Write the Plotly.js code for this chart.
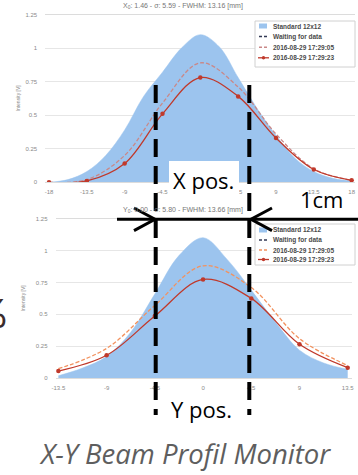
<!DOCTYPE html>
<html>
<head>
<meta charset="utf-8">
<script src="https://cdn.plot.ly/plotly-3.0.1.min.js"></script>
<style>html,body{margin:0;padding:0;background:#fff;}#chart{width:358px;height:475px;}</style>
</head>
<body>
<div id="chart"></div>
<script>
// ---------- data ----------
const seriesNames = ["Standard 12x12", "Waiting for data", "2016-08-29 17:29:05", "2016-08-29 17:29:23"];
const topTitle = "X<sub>0</sub>: 1.46 - σ: 5.59 - FWHM: 13.16 [mm]";
const botTitle = "Y<sub>0</sub>: 0.00 - σ: 5.80 - FWHM: 13.66 [mm]";
const yTitle = "Intensity [V]";

const xTop = [-18, -13.5, -9, -4.5, 0, 4.5, 9, 13.5, 18];
const xTopLabels = ["-18", "-13.5", "-9", "-4.5", "0", "4.5", "9", "13.5", "18"];
const topSolid = [0.00, 0.01, 0.14, 0.51, 0.78, 0.64, 0.33, 0.095, 0.015];
const topDashed = [0.00, 0.02, 0.20, 0.59, 0.89, 0.71, 0.36, 0.10, 0.015];
const xStdTop = [-18, -15.75, -13.5, -11.25, -9, -6.75, -4.5, -2.25, 0, 2.25, 4.5, 6.75, 9, 11.25, 13.5, 15.75, 18];
const topStd = [0.0, 0.02, 0.08, 0.20, 0.39, 0.64, 0.82, 1.0, 1.1, 1.01, 0.78, 0.55, 0.35, 0.18, 0.08, 0.03, 0.01];

const xBot = [-13.5, -9, -4.5, 0, 4.5, 9, 13.5];
const xBotLabels = ["-13.5", "-9", "-4.5", "0", "4.5", "9", "13.5"];
const botSolid = [0.057, 0.18, 0.487, 0.773, 0.625, 0.266, 0.083];
const botDashed = [0.075, 0.234, 0.57, 0.88, 0.71, 0.31, 0.10];
const xStdBot = [-13.5, -11.25, -9, -6.75, -4.5, -2.25, 0, 2.25, 4.5, 6.75, 9, 11.25, 13.5];
const botStd = [0.02, 0.08, 0.17, 0.36, 0.66, 0.96, 1.1, 0.93, 0.69, 0.44, 0.22, 0.12, 0.07];

const yTicks = [0, 0.25, 0.5, 0.75, 1, 1.25];
const yTickLabels = ["0", "0.25", "0.5", "0.75", "1", "1.25"];

const overlayLabels = {xpos: "X pos.", ypos: "Y pos.", cm: "1cm", caption: "X-Y Beam Profil Monitor", edge: "%"};

// ---------- styling ----------
const W = 358, H = 475;
const px = x => x / W;
const py = y => 1 - y / H;
const blue = "#9cc4ee";
const red = "#c0392b";
const topDashColor = "#c98888";
const botDashColor = "#f2925f";
const tickFont = {family: "Liberation Sans, Arial, sans-serif", size: 6, color: "#8a8a8a"};

function stdTrace(x, y, xa, ya) {
  return {x: x, y: y, xaxis: xa, yaxis: ya, type: "scatter", mode: "lines",
    line: {shape: "spline", smoothing: 1, color: blue, width: 0.5},
    fill: "tozeroy", fillcolor: blue, name: seriesNames[0], hoverinfo: "skip"};
}
function dashTrace(x, y, xa, ya, c) {
  return {x: x, y: y, xaxis: xa, yaxis: ya, type: "scatter", mode: "lines",
    line: {shape: "spline", smoothing: 1, color: c, width: 1.3, dash: "4px,2px"}, name: seriesNames[2]};
}
function solidTrace(x, y, xa, ya) {
  return {x: x, y: y, xaxis: xa, yaxis: ya, type: "scatter", mode: "lines+markers",
    line: {shape: "spline", smoothing: 1, color: red, width: 1.3},
    marker: {size: 4.5, color: red}, name: seriesNames[3]};
}

const data = [
  stdTrace(xStdTop, topStd, "x", "y"),
  dashTrace(xTop, topDashed, "x", "y", topDashColor),
  solidTrace(xTop, topSolid, "x", "y"),
  stdTrace(xStdBot, botStd, "x2", "y2"),
  dashTrace(xBot, botDashed, "x2", "y2", botDashColor),
  solidTrace(xBot, botSolid, "x2", "y2")
];

function xAxis(domain, range, vals, labels, anchor) {
  return {domain: domain, range: range, anchor: anchor, tickvals: vals, ticktext: labels,
    tickfont: tickFont, showgrid: false, zeroline: false, showline: true, linecolor: "#dcdcdc",
    linewidth: 1, mirror: true, ticks: "outside", ticklen: 3, tickcolor: "rgba(0,0,0,0)", fixedrange: true};
}
function yAxis(domain, anchor, standoff) {
  return {domain: domain, range: [0, 1.25], anchor: anchor, tickvals: yTicks, ticktext: yTickLabels,
    tickfont: tickFont, showgrid: true, gridcolor: "#e6e6e6", gridwidth: 1, zeroline: false,
    showline: false, ticks: "outside", ticklen: 6, tickcolor: "rgba(0,0,0,0)",
    title: {text: yTitle, font: {family: "Liberation Sans, Arial, sans-serif", size: 5, color: "#8a8a8a"}, standoff: standoff},
    fixedrange: true};
}

const shapes = [];
const annotations = [];

// legends (drawn as overlay boxes)
function legend(x0, y0, y1, rows) {
  shapes.push({type: "rect", xref: "paper", yref: "paper", x0: px(x0), x1: px(355), y0: py(y0), y1: py(y1),
    line: {color: "#d0d0d0", width: 1}, fillcolor: "#ffffff", layer: "above"});
  rows.forEach((yy, i) => {
    if (i === 0) {
      shapes.push({type: "rect", xref: "paper", yref: "paper", x0: px(x0 + 4), x1: px(x0 + 12), y0: py(yy - 2.5), y1: py(yy + 2.5),
        line: {width: 0}, fillcolor: blue, layer: "above"});
    } else if (i === 1 || i === 2) {
      const c = i === 1 ? "#333a55" : (y0 < 100 ? topDashColor : botDashColor);
      shapes.push({type: "line", xref: "paper", yref: "paper", x0: px(x0 + 4), x1: px(x0 + 13), y0: py(yy), y1: py(yy),
        line: {color: c, width: 1.5, dash: "3px,2px"}, layer: "above"});
    } else {
      shapes.push({type: "line", xref: "paper", yref: "paper", x0: px(x0 + 3), x1: px(x0 + 14), y0: py(yy), y1: py(yy),
        line: {color: red, width: 1.3}, layer: "above"});
      shapes.push({type: "circle", xref: "paper", yref: "paper", x0: px(x0 + 6.8), x1: px(x0 + 10.2), y0: py(yy - 1.7), y1: py(yy + 1.7),
        line: {width: 0}, fillcolor: red, layer: "above"});
    }
    annotations.push({xref: "paper", yref: "paper", x: px(x0 + 16), y: py(yy), xanchor: "left", yanchor: "middle",
      text: seriesNames[i], showarrow: false,
      font: {family: "Liberation Sans, Arial, sans-serif", size: 6.5, color: "#4a4a4a", weight: 700}});
  });
}
legend(255, 21, 67, [26, 36.6, 47.2, 57.8]);
legend(255, 224, 265, [230, 240, 250, 259.5]);

// chart titles
annotations.push({xref: "paper", yref: "paper", x: px(183), y: py(6), xanchor: "center", yanchor: "middle",
  text: topTitle, showarrow: false, font: {family: "Liberation Sans, Arial, sans-serif", size: 7, color: "#777"}});
annotations.push({xref: "paper", yref: "paper", x: px(183), y: py(210), xanchor: "center", yanchor: "middle",
  text: botTitle, showarrow: false, font: {family: "Liberation Sans, Arial, sans-serif", size: 7, color: "#777"}});

// overlay drawing: white label box, dashed guides, arrows
shapes.push({type: "rect", xref: "paper", yref: "paper", x0: px(169), x1: px(239), y0: py(201), y1: py(161),
  line: {width: 0}, fillcolor: "#ffffff", layer: "above"});
[155.7, 249.3].forEach(xx => {
  shapes.push({type: "line", xref: "paper", yref: "paper", x0: px(xx), x1: px(xx), y0: py(85), y1: py(415),
    line: {color: "#000", width: 4, dash: "18px,9px"}, layer: "above"});
});
shapes.push({type: "line", xref: "paper", yref: "paper", x0: px(117), x1: px(358), y0: py(219.3), y1: py(219.3),
  line: {color: "#000", width: 3}, layer: "above"});
function chevron(tipX, dir) {
  const bx = tipX - dir * 21;
  return `M ${px(bx)} ${py(208)} L ${px(tipX)} ${py(219.3)} L ${px(bx)} ${py(230.6)}`;
}
shapes.push({type: "path", xref: "paper", yref: "paper", path: chevron(155, 1), line: {color: "#000", width: 3}, layer: "above"});
shapes.push({type: "path", xref: "paper", yref: "paper", path: chevron(251, -1), line: {color: "#000", width: 3}, layer: "above"});

const bigFont = {family: "Open Sans, Lato, sans-serif", size: 22, color: "#000"};
annotations.push({xref: "paper", yref: "paper", x: px(204), y: py(180), xanchor: "center", yanchor: "middle",
  text: overlayLabels.xpos, showarrow: false, font: bigFont});
annotations.push({xref: "paper", yref: "paper", x: px(321.5), y: py(199), xanchor: "center", yanchor: "middle",
  text: overlayLabels.cm, showarrow: false, font: bigFont});
annotations.push({xref: "paper", yref: "paper", x: px(201.5), y: py(409), xanchor: "center", yanchor: "middle",
  text: overlayLabels.ypos, showarrow: false, font: bigFont});
annotations.push({xref: "paper", yref: "paper", x: px(184.5), y: py(453), xanchor: "center", yanchor: "middle",
  text: "<i>" + overlayLabels.caption + "</i>", showarrow: false,
  font: {family: "Open Sans, Lato, sans-serif", size: 27.5, color: "#5e5e5e"}});
annotations.push({xref: "paper", yref: "paper", x: px(9), y: py(313), xanchor: "right", yanchor: "middle",
  text: overlayLabels.edge, showarrow: false, font: {family: "Lato, Open Sans, sans-serif", size: 40, color: "#3a2c2c"}});

const layout = {
  width: W, height: H, margin: {l: 0, r: 0, t: 0, b: 0},
  paper_bgcolor: "#fff", plot_bgcolor: "#fff", showlegend: false,
  xaxis: xAxis([px(45.3), px(355)], [-18.44, 18.4], xTop, xTopLabels, "y"),
  yaxis: yAxis([py(182.3), py(14.5)], "x", 4),
  xaxis2: xAxis([px(55.7), px(352)], [-13.75, 13.9], xBot, xBotLabels, "y2"),
  yaxis2: yAxis([py(378.3), py(218.5)], "x2", 10),
  shapes: shapes, annotations: annotations
};

Plotly.newPlot("chart", data, layout, {staticPlot: true, displayModeBar: false});
</script>
</body>
</html>
